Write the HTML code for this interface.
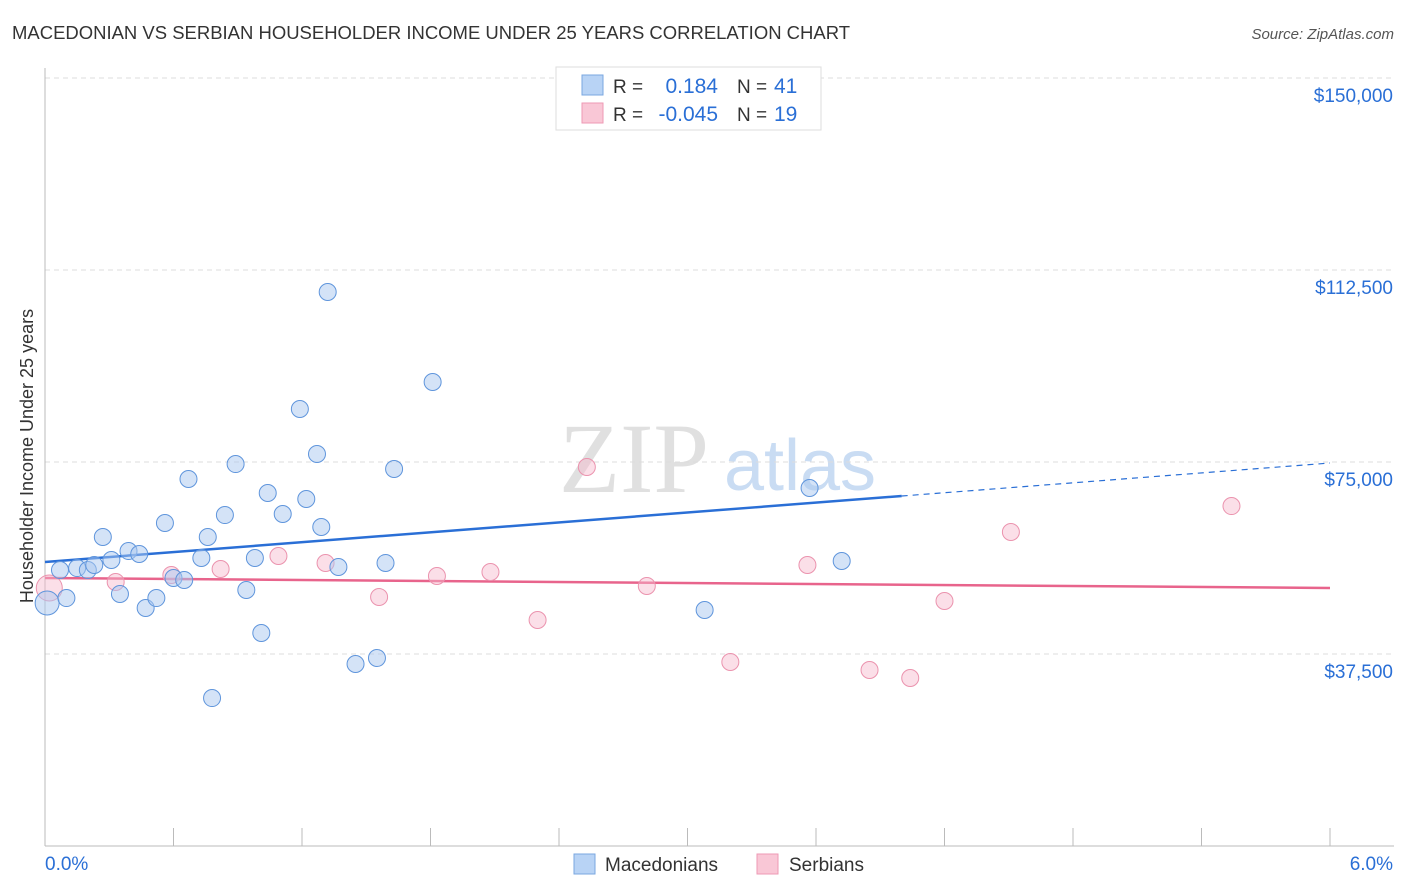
<!DOCTYPE html>
<html><head><meta charset="utf-8"><style>
body{margin:0;background:#fff;font-family:"Liberation Sans",sans-serif;}
svg{display:block}
</style></head><body>
<svg id="chart" width="1406" height="892" xmlns="http://www.w3.org/2000/svg">
<text x="12" y="39" font-size="18" fill="#333" textLength="838" lengthAdjust="spacingAndGlyphs">MACEDONIAN VS SERBIAN HOUSEHOLDER INCOME UNDER 25 YEARS CORRELATION CHART</text>
<text x="1394" y="39" font-size="15" fill="#555" text-anchor="end" font-style="italic">Source: ZipAtlas.com</text>
<g><text x="634" y="492" font-size="100" fill="#e0e0e0" font-family="Liberation Serif,serif" text-anchor="middle">ZIP</text><text x="800" y="490" font-size="72" fill="#c9dcf3" text-anchor="middle">atlas</text></g>
<g id="grid"></g>
<g id="axes"></g>
<g id="lines"></g>
<g id="points"></g>
<text transform="translate(33,456) rotate(-90)" font-size="18" fill="#333" text-anchor="middle">Householder Income Under 25 years</text>
<g>
<rect x="556" y="67" width="265" height="63" fill="#fff" stroke="#ddd"/>
<rect x="582" y="75" width="21" height="20" fill="#b8d3f5" stroke="#7aa7e0"/>
<rect x="582" y="103" width="21" height="20" fill="#f9c7d6" stroke="#ee9ab4"/>
<text x="613" y="93" font-size="19" fill="#333">R =</text><text x="718" y="93" font-size="21" fill="#2a6fd6" text-anchor="end">0.184</text>
<text x="737" y="93" font-size="19" fill="#333">N =</text><text x="774" y="93" font-size="21" fill="#2a6fd6">41</text>
<text x="613" y="121" font-size="19" fill="#333">R =</text><text x="718" y="121" font-size="21" fill="#2a6fd6" text-anchor="end">-0.045</text>
<text x="737" y="121" font-size="19" fill="#333">N =</text><text x="774" y="121" font-size="21" fill="#2a6fd6">19</text>
</g>
<g>
<rect x="574" y="854" width="21" height="20" fill="#b8d3f5" stroke="#7aa7e0"/>
<text x="605" y="871" font-size="19" fill="#333">Macedonians</text>
<rect x="757" y="854" width="21" height="20" fill="#f9c7d6" stroke="#ee9ab4"/>
<text x="789" y="871" font-size="19" fill="#333">Serbians</text>
</g>
</svg>
<script>
const yTicks=[37500,75000,112500,150000];
const yTickLabels=["$37,500","$75,000","$112,500","$150,000"];
const macX=[0.01,0.07,0.10,0.15,0.20,0.23,0.27,0.31,0.35,0.39,0.44,0.47,0.52,0.56,0.60,0.65,0.67,0.73,0.76,0.78,0.84,0.89,0.94,0.98,1.01,1.04,1.11,1.19,1.22,1.27,1.29,1.32,1.37,1.45,1.55,1.59,1.63,1.81,3.08,3.57,3.72];
const macY=[47460,53900,48430,54290,53900,54880,60350,55860,49220,57610,57030,46480,48430,63080,52340,51950,71680,56250,60350,28900,64640,74600,50000,56250,41600,68940,64840,85350,67770,76560,62300,108200,54490,35550,36720,55270,73630,90620,46090,69920,55660];
const serX=[0.02,0.33,0.59,0.82,1.09,1.31,1.56,1.83,2.08,2.30,2.53,2.81,3.20,3.56,3.85,4.04,4.20,4.51,5.54];
const serY=[50390,51560,52930,54100,56640,55270,48630,52730,53510,44140,74020,50780,35940,54880,34370,32810,47850,61330,66400];
const macTrend=[55470,74800];
const serTrend=[52340,50390];
const NS="http://www.w3.org/2000/svg";
const X0=45,X1=1330,Y0=846,PX=192/37500;
const sx=v=>X0+(v/6)*(X1-X0);
const sy=v=>Y0-v*PX;
function mk(t,a,p){const e=document.createElementNS(NS,t);for(const k in a)e.setAttribute(k,a[k]);p.appendChild(e);return e;}
const grid=document.getElementById('grid'),axes=document.getElementById('axes'),lines=document.getElementById('lines'),pts=document.getElementById('points');
yTicks.forEach((t,i)=>{
 const l=mk('line',{x1:X0,x2:1394,y1:sy(t),y2:sy(t),stroke:'#ddd','stroke-dasharray':'5,4'},grid);
 
 
 const tx=mk('text',{x:1393,y:sy(t)+24,'font-size':19,fill:'#2a6fd6','text-anchor':'end'},grid);
 tx.textContent=yTickLabels[i];
 
 
});
const ya=mk('line',{x1:X0,x2:X0,y1:68,y2:Y0,stroke:'#bbb'},axes);


const xa=mk('line',{x1:X0,x2:1394,y1:Y0,y2:Y0,stroke:'#bbb'},axes);


for(let i=0;i<=10;i++){const tk=mk('line',{x1:sx(i*0.6),x2:sx(i*0.6),y1:828,y2:Y0,stroke:'#bbb'},axes);
 
 }
const xl0=mk('text',{x:45,y:870,'font-size':19,fill:'#2a6fd6'},axes);xl0.textContent='0.0%';


const xl1=mk('text',{x:1393,y:870,'font-size':19,fill:'#2a6fd6','text-anchor':'end'},axes);xl1.textContent='6.0%';


serX.forEach((x,i)=>{const c=mk('circle',{cx:sx(x),cy:sy(serY[i]),r:i==0?13:8.5,fill:'#f6b9cc','fill-opacity':0.45,stroke:'#eb93ae','stroke-width':1},pts);
 
 });
macX.forEach((x,i)=>{const c=mk('circle',{cx:sx(x),cy:sy(macY[i]),r:i==0?12:8.5,fill:'#a9c8f0','fill-opacity':0.5,stroke:'#5f95dc','stroke-width':1},pts);
 
 });
const xm=4.0,ym=macTrend[0]+(macTrend[1]-macTrend[0])*xm/6;
const bl=mk('line',{x1:sx(0),y1:sy(macTrend[0]),x2:sx(xm),y2:sy(ym),stroke:'#2a6fd6','stroke-width':2.5},lines);


const bd=mk('line',{x1:sx(xm),y1:sy(ym),x2:sx(6),y2:sy(macTrend[1]),stroke:'#2a6fd6','stroke-width':1.2,'stroke-dasharray':'6,5'},lines);


const pl=mk('line',{x1:sx(0),y1:sy(serTrend[0]),x2:sx(6),y2:sy(serTrend[1]),stroke:'#e8648c','stroke-width':2.5},lines);


</script>
</body></html>
